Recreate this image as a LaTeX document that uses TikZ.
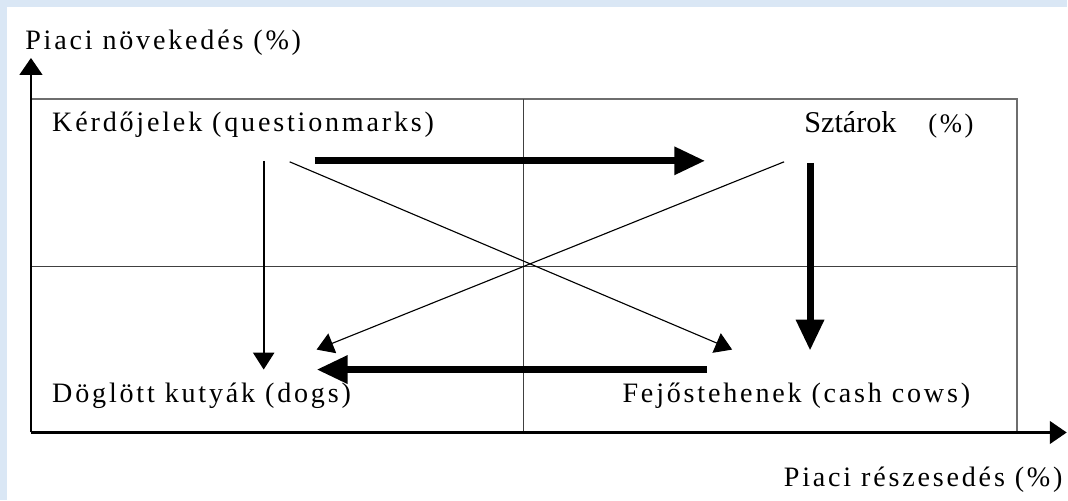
\documentclass[tikz,border=0pt]{standalone}
\usepackage{fontspec}
\setmainfont{Liberation Serif}
\usepackage{tikz}
\usetikzlibrary{arrows.meta}
\definecolor{bgblue}{RGB}{218,231,245}
\definecolor{framegray}{RGB}{110,110,110}
\newfontfamily\spacedfont[LetterSpace=10]{Liberation Serif}

\begin{document}
\begin{tikzpicture}[x=0.025cm,y=-0.025cm,lbl/.style={inner sep=0pt,anchor=base west,font=\spacedfont\fontsize{20}{23}\selectfont},ax/.style={-{Triangle[length=12pt,width=16pt]},line width=1.8pt},thn/.style={-{Triangle[length=12pt,width=15pt]},line width=1.3pt},dg/.style={-{Triangle[length=12pt,width=15pt]},line width=.8pt},thk/.style={-{Triangle[length=22pt,width=19pt]},line width=5pt}]

\fill[bgblue] (0,0) rectangle (1068,501);
\fill[white] (7,7) rectangle (1068,501);

% frame and quadrants
\draw[framegray,line width=1.4pt] (31,99) -- (1018,99) -- (1018,433);
\draw[black!75,line width=1pt] (524,99) -- (524,433);
\draw[black!75,line width=1pt] (31,267) -- (1018,267);

% axes
\coordinate (O) at (31,433);
\coordinate (ytip) at (31,58);
\coordinate (xtip) at (1068,433);
\draw[ax] (O) -- (ytip);
\draw[ax] (O) -- (xtip);

\node[lbl] (yl) at (25,50) {Piaci növekedés (\%)};
\node[lbl,anchor=base east] (xl) at (1064,487) {Piaci részesedés (\%)};
\node[lbl] (qm) at (52,132) {Kérdőjelek (questionmarks)};
\node[inner sep=0pt,anchor=base west,font=\fontsize{21.5}{24}\selectfont] (st) at (805,133) {Sztárok\hspace{1.05em}{\spacedfont\fontsize{19}{21}\selectfont(\%)}};
\node[lbl] (dog) at (52,403) {Döglött kutyák (dogs)};
\node[lbl] (cow) at (623,403) {Fejőstehenek (cash cows)};

% flows
\coordinate (a1) at (315,161); \coordinate (b1) at (706,161);
\coordinate (a2) at (264,161); \coordinate (b2) at (264,370);
\coordinate (a3) at (290,162); \coordinate (b3) at (733,350);
\coordinate (a4) at (785,162); \coordinate (b4) at (317,350);
\coordinate (a5) at (811,163); \coordinate (b5) at (811,351);
\coordinate (a6) at (708,370); \coordinate (b6) at (317,370);
\draw[thk] (a1) -- (b1);
\draw[thn] (a2) -- (b2);
\draw[dg] (a3) -- (b3);
\draw[dg] (a4) -- (b4);
\draw[thk] (a5) -- (b5);
\draw[thk] (a6) -- (b6);
\end{tikzpicture}
\end{document}
